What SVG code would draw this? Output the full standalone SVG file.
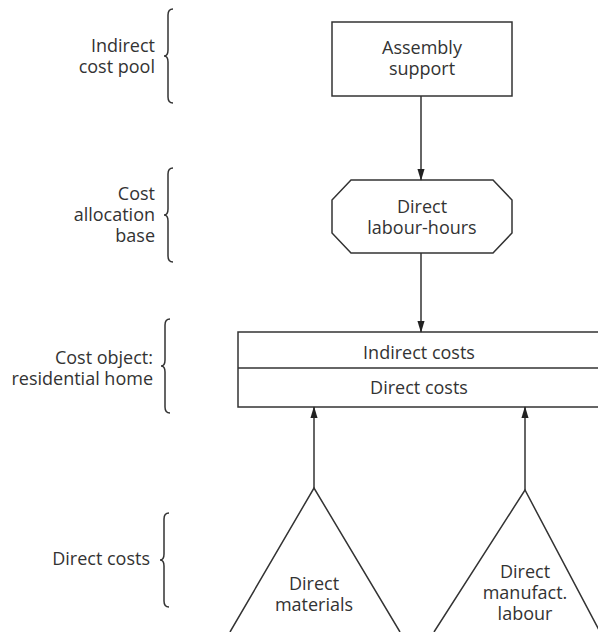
<svg xmlns="http://www.w3.org/2000/svg" width="598" height="632" viewBox="0 0 598 632">
<style>
text{font-family:"Open Sans","Noto Sans","Liberation Sans",sans-serif;font-size:18px;fill:#333}
.l{text-anchor:end}
.c{text-anchor:middle}
.s{fill:#fff;stroke:#333;stroke-width:1.5}
.b{fill:none;stroke:#333;stroke-width:1.5}
.e{stroke:#333;stroke-width:1.5;fill:none}
</style>
<defs>
<marker id="ah" markerWidth="12" markerHeight="14" refX="13" refY="5" orient="auto" markerUnits="userSpaceOnUse" viewBox="0 0 14 10">
<path d="M0,0.8 L14,5 L0,9.2 Z" fill="#222"/>
</marker>
</defs>
<rect width="598" height="632" fill="#fff"/>
<g id="labels">
<text class="l" x="155" y="52">Indirect</text>
<text class="l" x="155" y="73">cost pool</text>
<path class="b" d="M173,9 q-5,0 -5,6 v35 q0,6 -4,6 q4,0 4,6 v35 q0,6 5,6"/>
<text class="l" x="155" y="200">Cost</text>
<text class="l" x="155" y="221">allocation</text>
<text class="l" x="155" y="242">base</text>
<path class="b" d="M173,168 q-5,0 -5,6 v35 q0,6 -4,6 q4,0 4,6 v35 q0,6 5,6"/>
<text class="l" x="153" y="364">Cost object:</text>
<text class="l" x="153" y="385">residential home</text>
<path class="b" d="M170,319 q-5,0 -5,6 v35 q0,6 -4,6 q4,0 4,6 v35 q0,6 5,6"/>
<text class="l" x="150" y="565">Direct costs</text>
<path class="b" d="M169,513 q-5,0 -5,6 v35 q0,6 -4,6 q4,0 4,6 v35 q0,6 5,6"/>
</g>
<g id="assembly">
<rect class="s" x="332" y="22" width="180" height="74"/>
<text class="c" x="422" y="54">Assembly</text>
<text class="c" x="422" y="75">support</text>
</g>
<g id="labour-hours">
<polygon class="s" points="351,180 493,180 512,200 512,233 493,253 351,253 332,233 332,200"/>
<text class="c" x="422" y="213">Direct</text>
<text class="c" x="422" y="234">labour-hours</text>
</g>
<g id="cost-object">
<rect class="s" x="238" y="332" width="370" height="75"/>
<line class="e" x1="238" y1="368" x2="608" y2="368"/>
<text class="c" x="419" y="359">Indirect costs</text>
<text class="c" x="419" y="394">Direct costs</text>
</g>
<g id="materials">
<polyline class="e" points="230,632 314,488 400,632"/>
<text class="c" x="314" y="590">Direct</text>
<text class="c" x="314" y="611">materials</text>
</g>
<g id="manufact-labour">
<polyline class="e" points="434,632 525,490 600,632"/>
<text class="c" x="525" y="578">Direct</text>
<text class="c" x="525" y="599">manufact.</text>
<text class="c" x="525" y="620">labour</text>
</g>
<g id="connectors">
<line class="e" x1="421" y1="96" x2="421" y2="180" marker-end="url(#ah)"/>
<line class="e" x1="421" y1="253" x2="421" y2="332" marker-end="url(#ah)"/>
<line class="e" x1="314" y1="488" x2="314" y2="407" marker-end="url(#ah)"/>
<line class="e" x1="525" y1="490" x2="525" y2="407" marker-end="url(#ah)"/>
</g>
</svg>
